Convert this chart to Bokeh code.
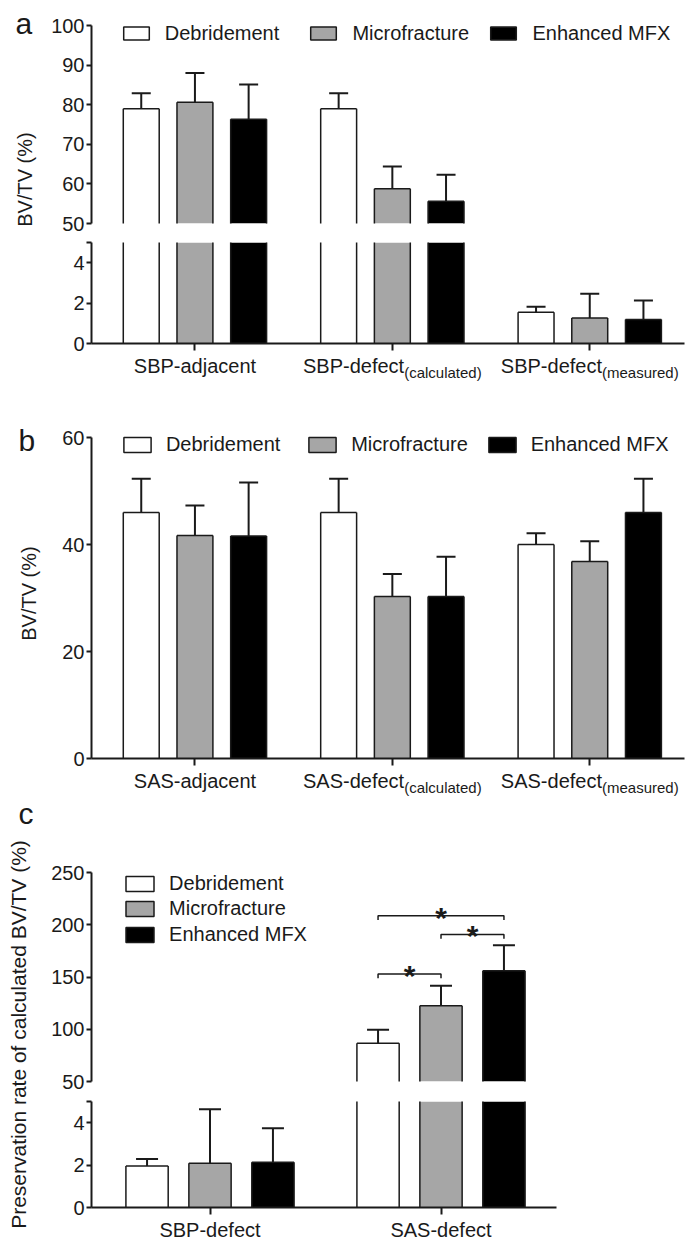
import math
from bokeh.plotting import figure
from bokeh.models import Range1d, FixedTicker, Label, Legend, LegendItem, ColumnDataSource
from bokeh.layouts import column, row
from bokeh.embed import file_html
from bokeh.resources import INLINE
from bokeh.core.properties import value

# ----------------------------- data -----------------------------
treatments = ["Debridement", "Microfracture", "Enhanced MFX"]

a_groups = ["SBP-adjacent", "SBP-defect", "SBP-defect"]
a_group_subs = ["", "(calculated)", "(measured)"]
a_debridement = [79.0, 79.0, 1.55]
a_debridement_sd = [3.9, 3.9, 0.27]
a_microfracture = [80.6, 58.8, 1.26]
a_microfracture_sd = [7.4, 5.6, 1.20]
a_enhanced = [76.3, 55.6, 1.19]
a_enhanced_sd = [8.8, 6.7, 0.94]
a_upper_ticks = [50, 60, 70, 80, 90, 100]
a_lower_ticks = [0, 2, 4, 5]

b_groups = ["SAS-adjacent", "SAS-defect", "SAS-defect"]
b_group_subs = ["", "(calculated)", "(measured)"]
b_debridement = [46.0, 46.0, 40.0]
b_debridement_sd = [6.3, 6.3, 2.1]
b_microfracture = [41.7, 30.3, 36.8]
b_microfracture_sd = [5.6, 4.2, 3.8]
b_enhanced = [41.6, 30.3, 46.0]
b_enhanced_sd = [10.0, 7.4, 6.3]
b_ticks = [0, 20, 40, 60]

c_groups = ["SBP-defect", "SAS-defect"]
c_group_subs = ["", ""]
c_debridement = [1.96, 86.7]
c_debridement_sd = [0.33, 12.8]
c_microfracture = [2.09, 122.4]
c_microfracture_sd = [2.55, 19.2]
c_enhanced = [2.14, 155.9]
c_enhanced_sd = [1.60, 24.6]
c_upper_ticks = [50, 100, 150, 200, 250]
c_lower_ticks = [0, 2, 4, 5]
c_sig_group = 1            # SAS-defect
c_sig_left = [0, 1, 0]     # treatment index at left end of bracket
c_sig_right = [2, 2, 1]    # treatment index at right end of bracket
c_sig_levels = [208.6, 190.7, 152.8]
c_sig_marks = ["*", "*", "*"]

# ----------------------------- style -----------------------------
FONT = "Liberation Sans"
INK = "#1a1a1a"
FILLS = ["#ffffff", "#a6a6a6", "#000000"]
SIDE_W = 48
MAIN_W = 652
PAGE_H = 1249
BL, BR = 43, 16            # frame spans x = 91 .. 684 on the page

AW = {'S': 667, 'B': 667, 'P': 667, 'A': 667, '-': 333, 'd': 556, 'e': 556, 'f': 278,
      'c': 500, 't': 278, '(': 333, ')': 333, 'a': 556, 'l': 222, 'u': 556, 'm': 833,
      's': 500, 'r': 333, 'j': 222, 'n': 556, ' ': 278}


def tw(s, size):
    return sum(AW.get(ch, 556) for ch in s) / 1000.0 * size


def blank_fig(w, h, xr, bl=0, br=0):
    f = figure(width=w, height=h, x_range=xr, y_range=Range1d(0, h),
               min_border_left=bl, min_border_right=br, min_border_top=0, min_border_bottom=0,
               toolbar_location=None, output_backend="svg",
               x_axis_location=None, y_axis_location=None)
    f.outline_line_color = None
    f.grid.visible = False
    return f


def main_fig(h, xr, yr, frame_h, extra_top, bt, bb, yticks, show_x, xticks=None, blank=None,
             xbounds=None):
    ppu = frame_h / float(yr[1] - yr[0])
    f = figure(width=MAIN_W, height=h, x_range=xr,
               y_range=Range1d(yr[0], yr[1] + extra_top / ppu),
               min_border_left=BL, min_border_right=BR, min_border_top=bt, min_border_bottom=bb,
               toolbar_location=None, output_backend="svg",
               x_axis_location=("below" if show_x else None), y_axis_location="left")
    f.grid.visible = False
    f.outline_line_color = None
    for ax in f.axis:
        ax.axis_line_color = INK
        ax.axis_line_width = 2
        ax.major_tick_line_color = INK
        ax.major_tick_line_width = 2
        ax.minor_tick_line_color = None
        ax.major_label_text_font = FONT
        ax.major_label_text_font_size = "20px"
        ax.major_label_text_color = INK
    f.yaxis.ticker = FixedTicker(ticks=yticks)
    f.yaxis.bounds = (yr[0], yr[1])
    f.yaxis.major_tick_out = 5
    f.yaxis.major_tick_in = 0
    f.yaxis.major_label_standoff = 2
    if blank is not None:
        f.yaxis.major_label_overrides = {blank: ""}
    if show_x:
        f.xaxis.ticker = FixedTicker(ticks=xticks)
        f.xaxis.major_tick_out = 7
        f.xaxis.major_tick_in = 0
        f.xaxis.major_label_overrides = {t: "" for t in xticks}
        f.xaxis.major_label_standoff = 0
        if xbounds is not None:
            f.xaxis.bounds = xbounds
    return f


def draw_bars(f, centers, series, sds, width, offset, cap, ylo):
    keys = []
    for k, (vals, sd) in enumerate(zip(series, sds)):
        keep = [i for i, v in enumerate(vals) if v > ylo]
        xs = [centers[i] + (k - 1) * offset for i in keep]
        tops = [vals[i] for i in keep]
        ups = [vals[i] + sd[i] for i in keep]
        src = ColumnDataSource(dict(
            x=xs, l=[x - width / 2 for x in xs], r=[x + width / 2 for x in xs],
            top=tops, zero=[0] * len(xs), up=ups))
        f.vbar(x="x", top="top", bottom=0, width=width, source=src,
               fill_color=FILLS[k], line_color=None)
        for x0, y0, x1, y1 in (("l", "zero", "l", "top"), ("r", "zero", "r", "top"),
                               ("l", "top", "r", "top")):
            f.segment(x0=x0, y0=y0, x1=x1, y1=y1, source=src, line_color=INK, line_width=1.5)
        f.segment(x0="x", y0="top", x1="x", y1="up", source=src, line_color=INK, line_width=2)
        f.scatter(x="x", y="up", source=src, marker="dash", size=cap, line_color=INK, line_width=2)
        # hidden copy with outline: only its look is used by the legend key
        keys.append(f.vbar(x="x", top="top", bottom=0, width=width, source=src,
                           fill_color=FILLS[k], line_color=INK, line_width=1.5, visible=False))
    return keys


def add_key(f, r, label, box_x, box_y, box_w, box_h, standoff, fl, fb):
    gw, gh = box_w / 0.8, box_h / 0.8
    item_h = 28
    cy = box_y + box_h / 2.0
    top = cy - item_h / 2.0
    leg = Legend(items=[LegendItem(label=label, renderers=[r])],
                 location=(box_x - 0.1 * gw - fl, fb - top - item_h),
                 orientation="vertical", padding=0, margin=0, spacing=0,
                 glyph_width=int(round(gw)), glyph_height=int(round(gh)),
                 label_standoff=int(round(standoff)), label_height=item_h,
                 label_text_font=FONT, label_text_font_size="20px", label_text_color=INK,
                 label_text_baseline="alphabetic",
                 border_line_color=None, background_fill_alpha=0)
    f.add_layout(leg)


def add_xlabels(f, h, page_top, centers, names, subs, y_main, y_sub):
    for c, name, sub in zip(centers, names, subs):
        if sub:
            w1, w2 = tw(name, 20), tw(sub, 15)
            left = -(w1 + w2) / 2.0
            f.add_layout(Label(x=c, y=h - (y_main - page_top), x_offset=left, text=name,
                               text_align="left", text_baseline="middle", text_font=FONT,
                               text_font_size="20px", text_color=INK))
            f.add_layout(Label(x=c, y=h - (y_sub - page_top), x_offset=left + w1, text=sub,
                               text_align="left", text_baseline="middle", text_font=FONT,
                               text_font_size="15px", text_color=INK))
        else:
            f.add_layout(Label(x=c, y=h - (y_main - page_top), text=name, text_align="center",
                               text_baseline="middle", text_font=FONT, text_font_size="20px",
                               text_color=INK))


def side_text(f, x, page_y, text, size, angle=0.0, align="left"):
    f.add_layout(Label(x=x, y=PAGE_H - page_y, text=text, angle=angle, text_align=align,
                       text_baseline="middle", text_font=FONT, text_font_size=size, text_color=INK))


# ----------------------------- panel a -----------------------------
BW3, OFF3 = 0.182, 0.272
xr_a = Range1d(0.476, 3.48)
a_centers = [i + 1 for i in range(len(a_groups))]
a_series = [a_debridement, a_microfracture, a_enhanced]
a_sds = [a_debridement_sd, a_microfracture_sd, a_enhanced_sd]

A1 = main_fig(237, xr_a, (50, 100), 198, 20, 5, 14, a_upper_ticks, False)
ka = draw_bars(A1, a_centers, a_series, a_sds, BW3, OFF3, 19, 50)
A2 = main_fig(117, xr_a, (0, 5), 101, 0, 5, 11, a_lower_ticks, True, a_centers, blank=5)
draw_bars(A2, a_centers, a_series, a_sds, BW3, OFF3, 19, 0)
SA = blank_fig(MAIN_W, 41, xr_a, BL, BR)
add_xlabels(SA, 41, 354, a_centers, a_groups, a_group_subs, 365.3, 371.8)
for k, bx in enumerate([123, 310.7, 490.7]):
    add_key(A1, ka[k], treatments[k], bx, 26.7, 26, 13, 13.45, 91, 223)

# ----------------------------- panel b -----------------------------
xr_b = Range1d(0.476, 3.48)
b_centers = [i + 1 for i in range(len(b_groups))]
b_series = [b_debridement, b_microfracture, b_enhanced]
b_sds = [b_debridement_sd, b_microfracture_sd, b_enhanced_sd]
B = main_fig(374, xr_b, (0, 60), 321, 20, 22, 11, b_ticks, True, b_centers)
kb = draw_bars(B, b_centers, b_series, b_sds, BW3, OFF3, 19, 0)
SB = blank_fig(MAIN_W, 31, xr_b, BL, BR)
add_xlabels(SB, 31, 769, b_centers, b_groups, b_group_subs, 780.5, 786.9)
for k, bx in enumerate([123.3, 308.5, 488]):
    add_key(B, kb[k], treatments[k], bx, 437, 27, 15, 12.5, 91, 758)

# ----------------------------- panel c -----------------------------
BW2, OFF2 = 0.183, 0.2725
unit_c = (556 - 94) / 2.0          # axis of panel c spans x = 94 .. 556 on the page
xr_c = Range1d(0.5 - 3 / unit_c, 2.5 + (684 - 556) / unit_c)
c_centers = [i + 1 for i in range(len(c_groups))]
c_series = [c_debridement, c_microfracture, c_enhanced]
c_sds = [c_debridement_sd, c_microfracture_sd, c_enhanced_sd]

C1 = main_fig(295, xr_c, (50, 250), 209, 0, 72, 14, c_upper_ticks, False)
kc = draw_bars(C1, c_centers, c_series, c_sds, BW2, OFF2, 22, 50)
C2 = main_fig(123, xr_c, (0, 5), 106, 0, 6, 11, c_lower_ticks, True, c_centers, blank=5,
              xbounds=(0.5 - 3 / unit_c, 2.5))
draw_bars(C2, c_centers, c_series, c_sds, BW2, OFF2, 22, 0)
SC = blank_fig(MAIN_W, 31, xr_c, BL, BR)
add_xlabels(SC, 31, 1218, c_centers, c_groups, c_group_subs, 1229.5, 1229.5)
for k, by in enumerate([876, 900.7, 926.7]):
    add_key(C1, kc[k], treatments[k], 125.6, by, 28, 15, 12.4, 91, 1081)

ppu_c1 = 209 / 200.0
gc = c_centers[c_sig_group]
bx0 = [gc + (i - 1) * OFF2 for i in c_sig_left]
bx1 = [gc + (j - 1) * OFF2 for j in c_sig_right]
drop = 4.3 / ppu_c1
C1.multi_line(xs=[[a, a, b, b] for a, b in zip(bx0, bx1)],
              ys=[[l - drop, l, l, l - drop] for l in c_sig_levels],
              line_color=INK, line_width=1.5)
C1.text(x=[(a + b) / 2 for a, b in zip(bx0, bx1)], y=[l - 1.5 / ppu_c1 for l in c_sig_levels],
        text=c_sig_marks, text_font=value(FONT), text_font_style="bold", text_font_size="30px",
        text_align="center", text_baseline="middle", text_color=INK)

# ----------------------------- side strip (panel letters, y titles) -----------------------------
side = blank_fig(SIDE_W, PAGE_H, Range1d(0, SIDE_W))
side_text(side, 15, 22.6, "a", "30px")
side_text(side, 24, 179, "BV/TV (%)", "20px", angle=math.pi / 2, align="center")
side_text(side, 18, 439.6, "b", "30px")
side_text(side, 28, 593, "BV/TV (%)", "20px", angle=math.pi / 2, align="center")
side_text(side, 18, 812.6, "c", "30px")
side_text(side, 18, 1034, "Preservation rate of calculated BV/TV (%)", "21px",
          angle=math.pi / 2, align="center")

layout = row(side, column(A1, A2, SA, B, SB, C1, C2, SC))

open("out.html", "w").write(file_html(layout, INLINE))
